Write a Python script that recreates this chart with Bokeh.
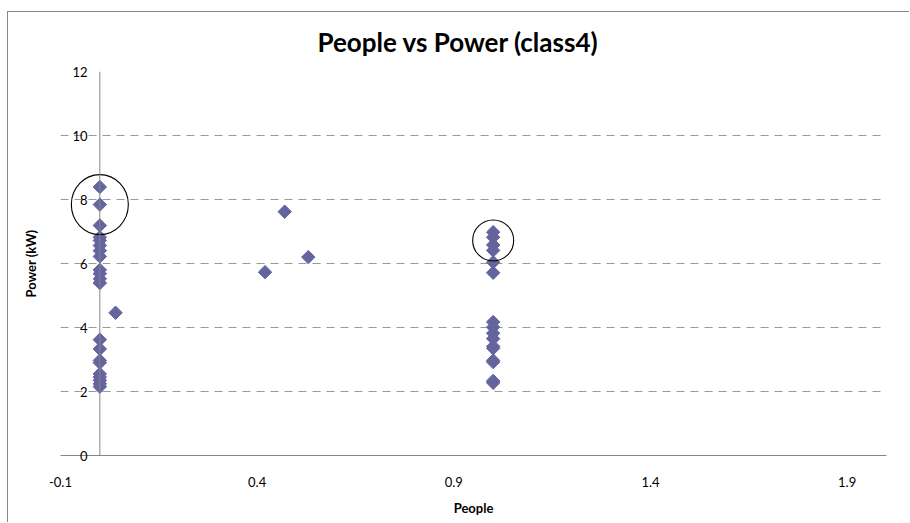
import math
from bokeh.plotting import figure
from bokeh.models import Span, FixedTicker, Range1d
from bokeh.embed import file_html
from bokeh.resources import INLINE

# ---- data ----
people = [0, 0, 0, 0, 0, 0, 0, 0, 0, 0, 0, 0,
          0, 0, 0, 0, 0, 0, 0, 0, 0,
          0.04,
          0.42, 0.47, 0.53,
          1, 1, 1, 1, 1, 1, 1, 1, 1, 1, 1, 1, 1, 1, 1, 1]
power = [8.39, 7.84, 7.19, 6.82, 6.72, 6.56, 6.40, 6.22, 5.80, 5.68, 5.52, 5.39,
         3.62, 3.33, 2.97, 2.90, 2.55, 2.45, 2.35, 2.24, 2.15,
         4.46,
         5.73, 7.62, 6.20,
         6.98, 6.82, 6.58, 6.41, 6.04, 5.71, 4.17, 4.01, 3.82, 3.65, 3.41, 3.35,
         2.97, 2.92, 2.33, 2.27]

x_ticks = [-0.1, 0.4, 0.9, 1.4, 1.9]
x_tick_labels = ["-0.1", "0.4", "0.9", "1.4", "1.9"]
y_ticks = [0, 2, 4, 6, 8, 10, 12]
y_tick_labels = ["0", "2", "4", "6", "8", "10", "12"]
y_axis_cross = 0.0

circle_x = [0.0, 1.0]
circle_y = [7.84, 6.72]
circle_w_px = [57, 41]
circle_h_px = [60, 41]

FONT = "Lato"
MARKER = "#64649E"
AXIS = "#868686"

p = figure(width=902, height=511, output_backend="svg", toolbar_location=None,
           x_range=Range1d(-0.1, 2.0), y_range=Range1d(0, 12),
           min_border_left=52, min_border_right=24, min_border_top=59,
           min_border_bottom=68, background_fill_color="white",
           border_fill_color="white")
p.outline_line_color = None

p.title.text = "People vs Power (class4)"
p.title.text_font = FONT
p.title.text_font_size = "26px"
p.title.text_font_style = "bold"
p.title.text_color = "black"
p.title.align = "left"
p.title.offset = 257
p.title.vertical_align = "top"
p.title.standoff = 24

# x axis
xa = p.xaxis[0]
xa.ticker = FixedTicker(ticks=x_ticks)
xa.major_label_overrides = {t: l for t, l in zip(x_ticks, x_tick_labels)}
xa.major_tick_out = 0
xa.major_tick_in = 0
xa.minor_tick_out = 0
xa.minor_tick_in = 0
xa.axis_line_color = AXIS
xa.major_label_standoff = 21
xa.major_label_text_font = FONT
xa.major_label_text_font_size = "13px"
xa.major_label_text_color = "black"
xa.axis_label = "People"
xa.axis_label_text_font = FONT
xa.axis_label_text_font_size = "13px"
xa.axis_label_text_font_style = "bold"
xa.axis_label_text_color = "black"
xa.axis_label_standoff = 10

# y axis: labels pulled in next to the x = 0 crossing line
ya = p.yaxis[0]
ya.ticker = FixedTicker(ticks=y_ticks)
ya.major_label_overrides = {t: l for t, l in zip(y_ticks, y_tick_labels)}
ya.axis_line_color = None
ya.major_tick_out = 0
ya.major_tick_in = 0
ya.minor_tick_out = 0
ya.minor_tick_in = 0
ya.major_label_standoff = -27
ya.major_label_text_font = FONT
ya.major_label_text_font_size = "13px"
ya.major_label_text_color = "black"
ya.axis_label = "Power (kW)"
ya.axis_label_text_font = FONT
ya.axis_label_text_font_size = "13px"
ya.axis_label_text_font_style = "bold"
ya.axis_label_text_color = "black"
ya.axis_label_standoff = 30

p.xgrid.visible = False
p.ygrid.ticker = FixedTicker(ticks=y_ticks[1:])
p.ygrid.grid_line_color = "#999999"
p.ygrid.grid_line_dash = "8 6"
p.ygrid.grid_line_width = 1

p.add_layout(Span(location=y_axis_cross, dimension="height",
                  line_color=AXIS, line_width=1))

p.scatter(people, power, marker="square", size=9.5, angle=math.pi / 4,
          fill_color=MARKER, line_color=MARKER)

p.ellipse(x=circle_x, y=circle_y, width=circle_w_px, height=circle_h_px,
          width_units="screen", height_units="screen",
          fill_color=None, line_color="black", line_width=1.1)

p.styles = {"margin-left": "7px", "margin-top": "11px",
            "border-left": "1px solid #888888", "border-top": "1px solid #888888"}

open("out.html", "w").write(file_html(p, INLINE))
